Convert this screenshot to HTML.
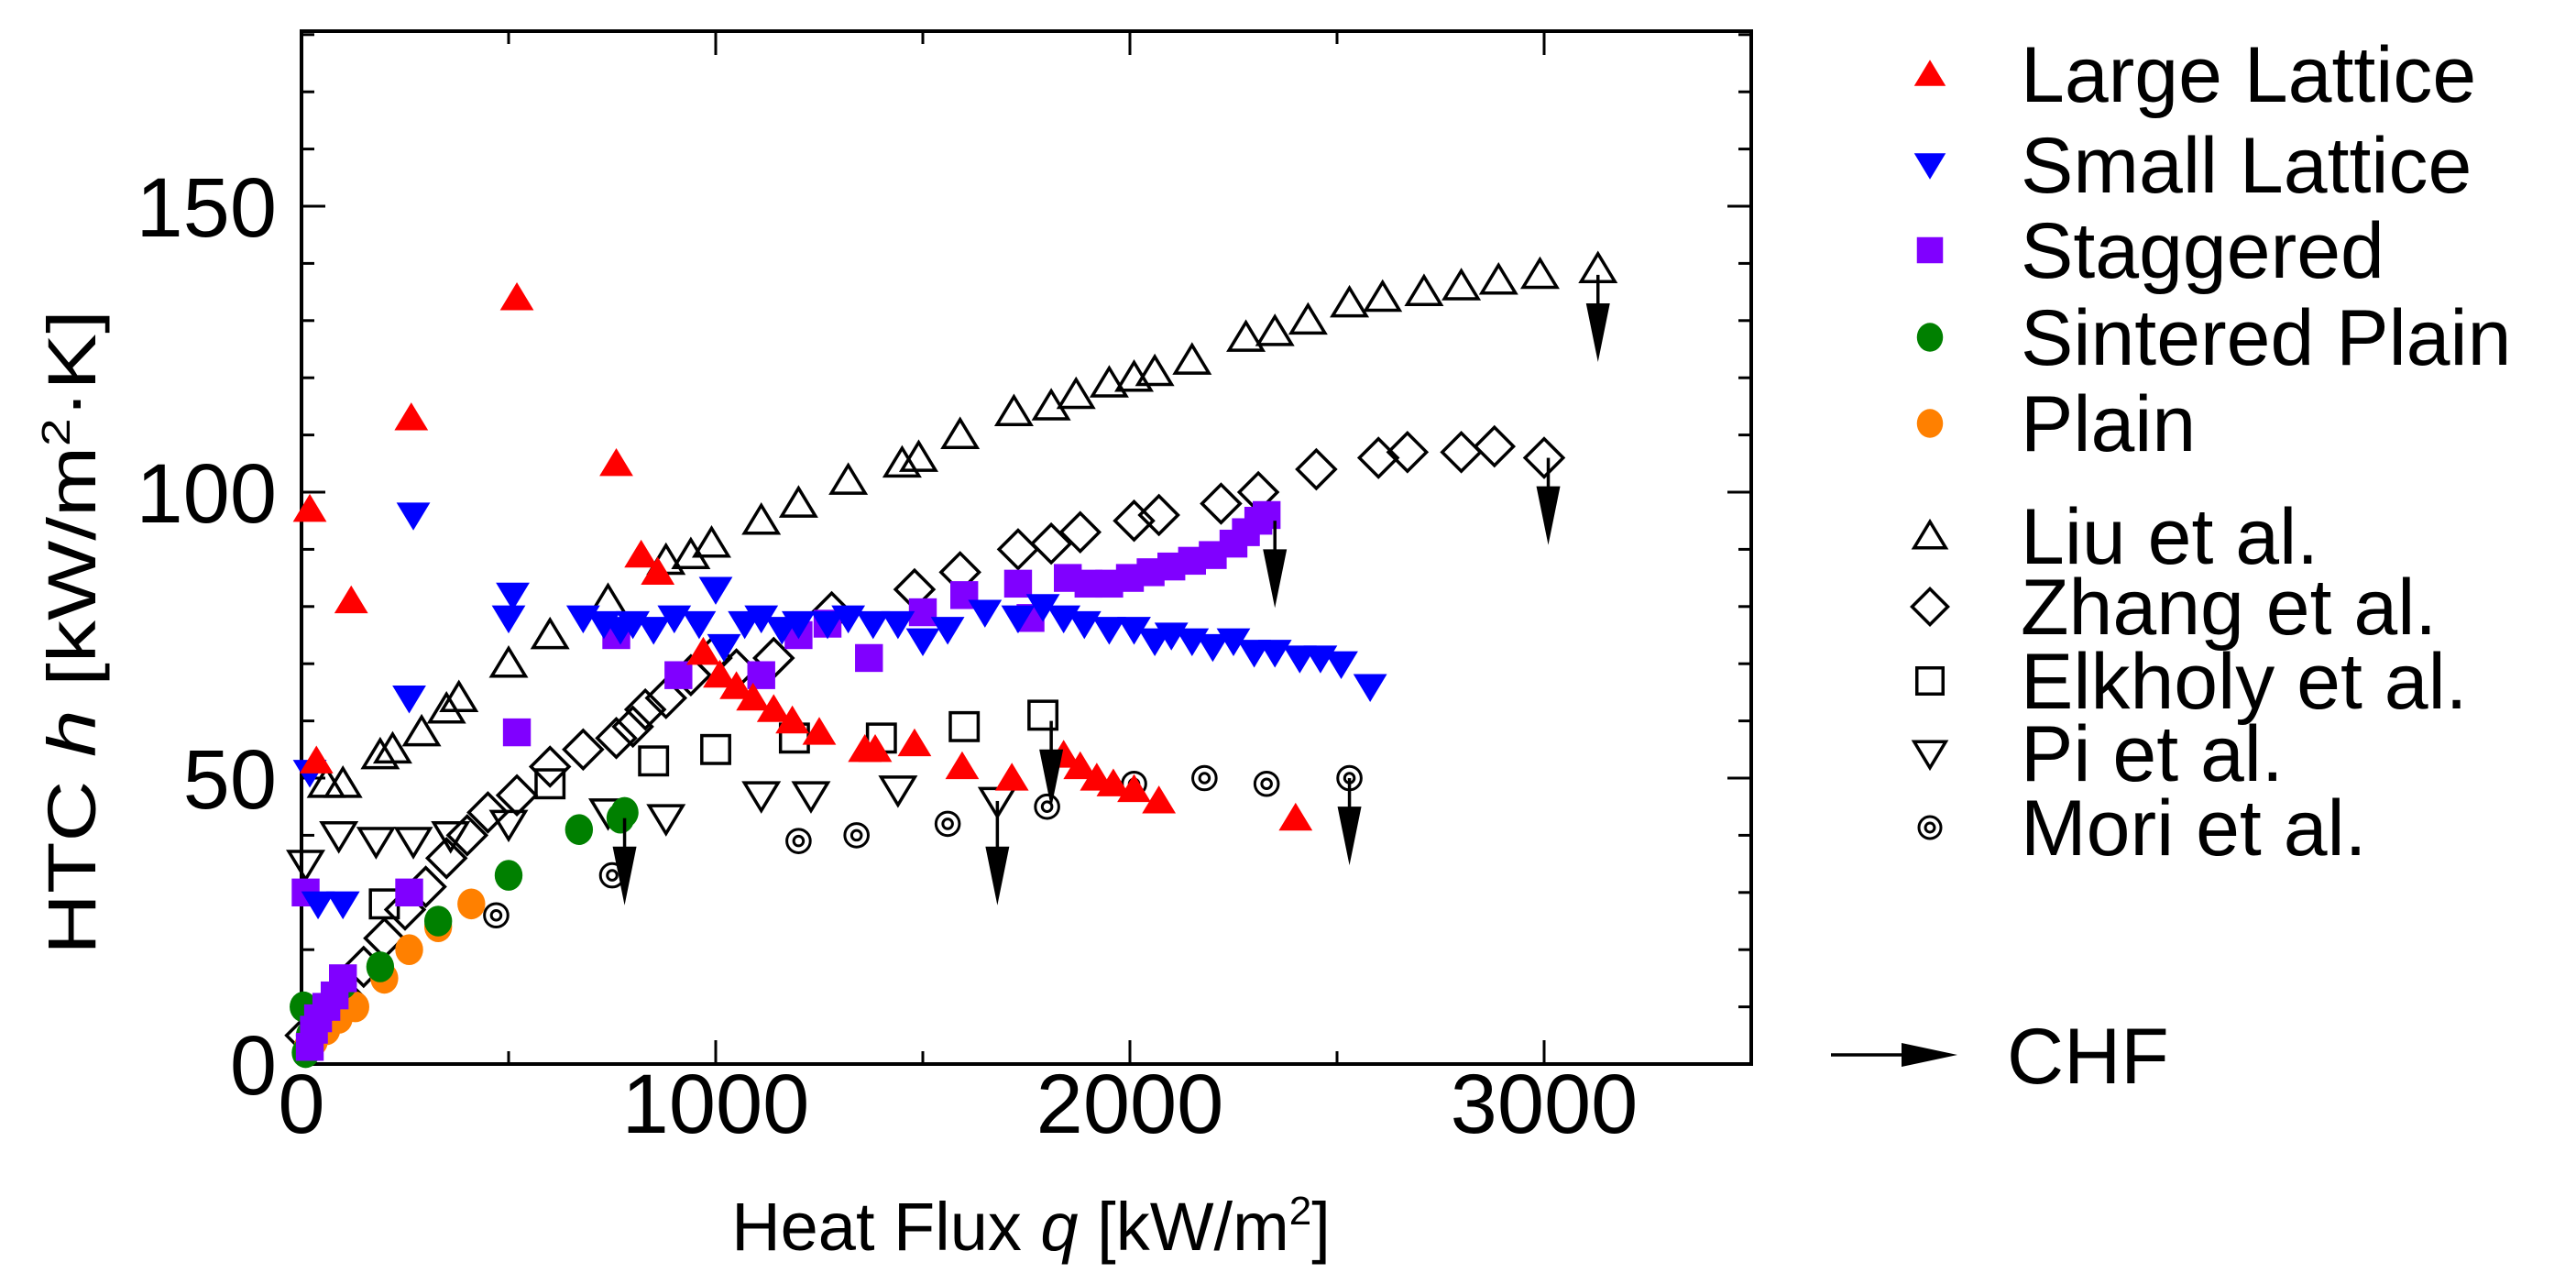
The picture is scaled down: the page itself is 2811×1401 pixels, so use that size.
<!DOCTYPE html>
<html><head><meta charset="utf-8"><style>
html,body{margin:0;padding:0;background:#fff}
svg{display:block}
text{font-family:"Liberation Sans",Arial,sans-serif;fill:#000}
</style></head><body>
<svg id="chart" width="2811" height="1401" viewBox="0 0 2811 1401" xmlns="http://www.w3.org/2000/svg">
<g id="plot"></g>
<g id="legend"></g>
</svg>
<script>
// ---- data ----
const largeX=[20,120,36,265,520,760,820,860,970,1010,1050,1090,1140,1185,1250,1360,1385,1480,1595,1715,1840,1880,1920,1960,2010,2070,2400];
const largeY=[97,81,53,113,134,105,89,86,72,68,66,64,62,60,58,55,55,56,52,50,54,52,50,49,48,46,43];
const smallX=[20,40,100,260,270,500,510,680,730,770,800,850,900,960,1000,1020,1070,1110,1160,1200,1270,1320,1380,1440,1500,1560,1650,1730,1790,1840,1890,1950,2010,2060,2100,2150,2200,2250,2300,2350,2410,2460,2510,2580];
const smallY=[51,28,28,64,96,78,82,78,77,76,77,76,78,77,83,73,77,78,76,77,77,78,77,77,74,76,79,78,80,78,77,76,76,74,75,74,73,74,72,72,71,71,70,66];
const stagX=[10,20,30,40,60,80,100,260,520,760,910,1110,1200,1270,1370,1500,1600,1730,1760,1850,1900,1950,2000,2050,2100,2150,2200,2250,2280,2310,2330];
const stagY=[30,3,6,8,10,12,15,30,58,75,68,68,75,77,71,79,82,84,78,85,84,84,85,86,87,88,89,91,93,95,96];
const sintX=[5,10,20,60,100,190,330,500,670,770,780];
const sintY=[10,2,5,10,14,17,25,33,41,43,44];
const plainX=[15,30,60,90,130,200,260,330,410];
const plainY=[3,4,6,8,10,15,20,24,28];
const liuX=[60,100,190,220,290,350,380,500,600,740,880,940,990,1110,1200,1320,1450,1490,1590,1720,1810,1870,1950,2010,2060,2150,2280,2350,2430,2530,2610,2710,2800,2890,2990,3130];
const liuY=[49,49,54,55,58,62,64,70,75,81,88,89,91,95,98,102,105,106,110,114,115,117,119,120,121,123,127,128,130,133,134,135,136,137,138,139];
const zhangX=[10,100,150,200,250,300,350,400,450,520,600,680,760,800,830,880,940,990,1050,1140,1280,1480,1590,1730,1810,1880,2010,2070,2220,2310,2450,2600,2670,2800,2880,3000];
const zhangY=[5,12,17,22,27,31,36,40,44,47,52,55,57,59,62,64,68,71,69,71,79,83,86,90,91,93,95,96,98,100,104,106,107,107,108,106];
const elkX=[200,600,850,1000,1190,1400,1600,1790];
const elkY=[28,49,53,55,57,57,59,61];
const piX=[10,90,180,270,360,500,740,880,1110,1230,1440,1680];
const piY=[35,40,39,39,40,42,44,43,47,47,48,46];
const moriX=[470,750,1200,1340,1560,1800,2010,2180,2330,2530];
const moriY=[26,33,39,40,42,45,49,50,49,50];
const chfX=[780,1680,1810,2350,2530,3010,3130];
const chfTop=[43,46,60,95,50,106,138];
const chfBot=[30,30,47,82,37,93,125];
const xTicks=[0,1000,2000,3000];
const yTicks=[0,50,100,150];

// ---- axes ----
const L=329,R=1911,T=34,B=1161;
const X0=0,X1=3500;
const sx=v=>L+(v-X0)/(X1-X0)*(R-L);
const sy=v=>B-v/150*(B-225);
const NS="http://www.w3.org/2000/svg";
const plot=document.getElementById('plot');
const leg=document.getElementById('legend');
function mk(tag,attrs,parent){const e=document.createElementNS(NS,tag);for(const k in attrs)e.setAttribute(k,attrs[k]);(parent||plot).appendChild(e);return e;}

function marker(type,x,y,fill,stroke,parent,S){
  S=S||16;
  let e;
  const sw=3.5;
  if(type==='up'){e=mk('polygon',{points:`${x},${y-S*1.05} ${x-S*1.15},${y+S*0.85} ${x+S*1.15},${y+S*0.85}`,fill,stroke,'stroke-width':fill==='none'?sw:0},parent);}
  else if(type==='down'){e=mk('polygon',{points:`${x},${y+S*1.05} ${x-S*1.15},${y-S*0.85} ${x+S*1.15},${y-S*0.85}`,fill,stroke,'stroke-width':fill==='none'?sw:0},parent);}
  else if(type==='sq'){e=mk('rect',{x:x-S*0.95,y:y-S*0.95,width:S*1.9,height:S*1.9,fill,stroke,'stroke-width':fill==='none'?sw:0},parent);}
  else if(type==='dia'){e=mk('polygon',{points:`${x},${y-S*1.3} ${x+S*1.3},${y} ${x},${y+S*1.3} ${x-S*1.3},${y}`,fill,stroke,'stroke-width':sw},parent);}
  else if(type==='circ'){e=mk('ellipse',{cx:x,cy:y,rx:S*0.95,ry:S*1.05,fill},parent);}
  else if(type==='mori'){e=mk('g',{},parent);mk('circle',{cx:x,cy:y,r:S*0.8,fill:'none',stroke:'#000','stroke-width':3},e);mk('circle',{cx:x,cy:y,r:S*0.33,fill:'none',stroke:'#000','stroke-width':3},e);}
  return e;
}

// frame
const frame=mk('rect',{x:L,y:T,width:R-L,height:B-T,fill:'none',stroke:'#000','stroke-width':4});



// ticks
for(let v=0;v<=3500;v+=500){
  const maj=v%1000===0, len=maj?26:14, x=sx(v);
  const t1=mk('line',{x1:x,y1:B,x2:x,y2:B-len,stroke:'#000','stroke-width':3});
  
  
  const t2=mk('line',{x1:x,y1:T,x2:x,y2:T+len,stroke:'#000','stroke-width':3});
  
  
}
for(let v=0;v<=180;v+=10){
  const maj=v%50===0, len=maj?26:14, y=sy(v);
  const t1=mk('line',{x1:L,y1:y,x2:L+len,y2:y,stroke:'#000','stroke-width':3});
  
  
  const t2=mk('line',{x1:R,y1:y,x2:R-len,y2:y,stroke:'#000','stroke-width':3});
  
  
}
xTicks.forEach(v=>{
  const t=mk('text',{x:sx(v),y:1236,'text-anchor':'middle','font-size':92});
  t.textContent=v;
  
  
});
yTicks.forEach(v=>{
  const t=mk('text',{x:302,y:sy(v)+33,'text-anchor':'end','font-size':92});
  t.textContent=v;
  
  
});
// axis titles
const xt=mk('text',{x:1125,y:1364,'text-anchor':'middle','font-size':74});
xt.innerHTML='Heat Flux <tspan font-style="italic">q</tspan> [kW/m<tspan font-size="44" dy="-28">2</tspan><tspan dy="28">]</tspan>';


const yt=mk('text',{x:0,y:0,'text-anchor':'middle','font-size':74,transform:'translate(104,690) rotate(-90) scale(1.25,1)'});
yt.innerHTML='HTC <tspan font-style="italic">h</tspan> [kW/m<tspan font-size="44" dy="-28">2</tspan><tspan dy="28">·K]</tspan>';



// series
function series(xs,ys,type,fill,stroke,name){
  const g=mk('g',{});
  
  
  xs.forEach((x,i)=>{
    const m=marker(type,sx(x),sy(ys[i]),fill,stroke,g);
    
    
  });
}
series(liuX,liuY,'up','none','#000','liu');
series(zhangX,zhangY,'dia','none','#000','zhang');
series(elkX,elkY,'sq','none','#000','elkholy');
series(piX,piY,'down','none','#000','pi');
series(moriX,moriY,'mori','none','#000','mori');
series(plainX,plainY,'circ','#ff8000','none','plain');
series(sintX,sintY,'circ','#008000','none','sintered-plain');
series(stagX,stagY,'sq','#8000ff','none','staggered');
series(smallX,smallY,'down','#0000ff','none','small-lattice');
series(largeX,largeY,'up','#ff0000','none','large-lattice');
// CHF arrows
chfX.forEach((q,i)=>{
  const x=sx(q),y1=sy(chfTop[i]),y2=sy(chfBot[i]);
  const g=mk('g',{});
  
  
  mk('line',{x1:x,y1:y1,x2:x,y2:y2-40,stroke:'#000','stroke-width':3.5},g);
  mk('polygon',{points:`${x-13},${y2-50} ${x+13},${y2-50} ${x},${y2+14}`,fill:'#000'},g);
});

// legend
const legItems=[
 ['up','#ff0000','none','Large Lattice',81],
 ['down','#0000ff','none','Small Lattice',180],
 ['sq','#8000ff','none','Staggered',273],
 ['circ','#008000','none','Sintered Plain',368],
 ['circ','#ff8000','none','Plain',462],
 ['up','none','#000','Liu et al.',585],
 ['dia','none','#000','Zhang et al.',662],
 ['sq','none','#000','Elkholy et al.',743],
 ['down','none','#000','Pi et al.',822],
 ['mori','none','#000','Mori et al.',903]
];
legItems.forEach(it=>{
  const g=mk('g',{},leg);
  
  
  marker(it[0],2106,it[4],it[1],it[2],g,15);
  const t=mk('text',{x:2205,y:it[4]+30,'font-size':86},g);
  t.textContent=it[3];
});
const cg=mk('g',{},leg);


mk('line',{x1:1998,y1:1151,x2:2090,y2:1151,stroke:'#000','stroke-width':3.5},cg);
mk('polygon',{points:`2075,1138 2075,1164 2136,1151`,fill:'#000'},cg);
const ct=mk('text',{x:2190,y:1182,'font-size':86},cg);
ct.textContent='CHF';
</script>
</body></html>
